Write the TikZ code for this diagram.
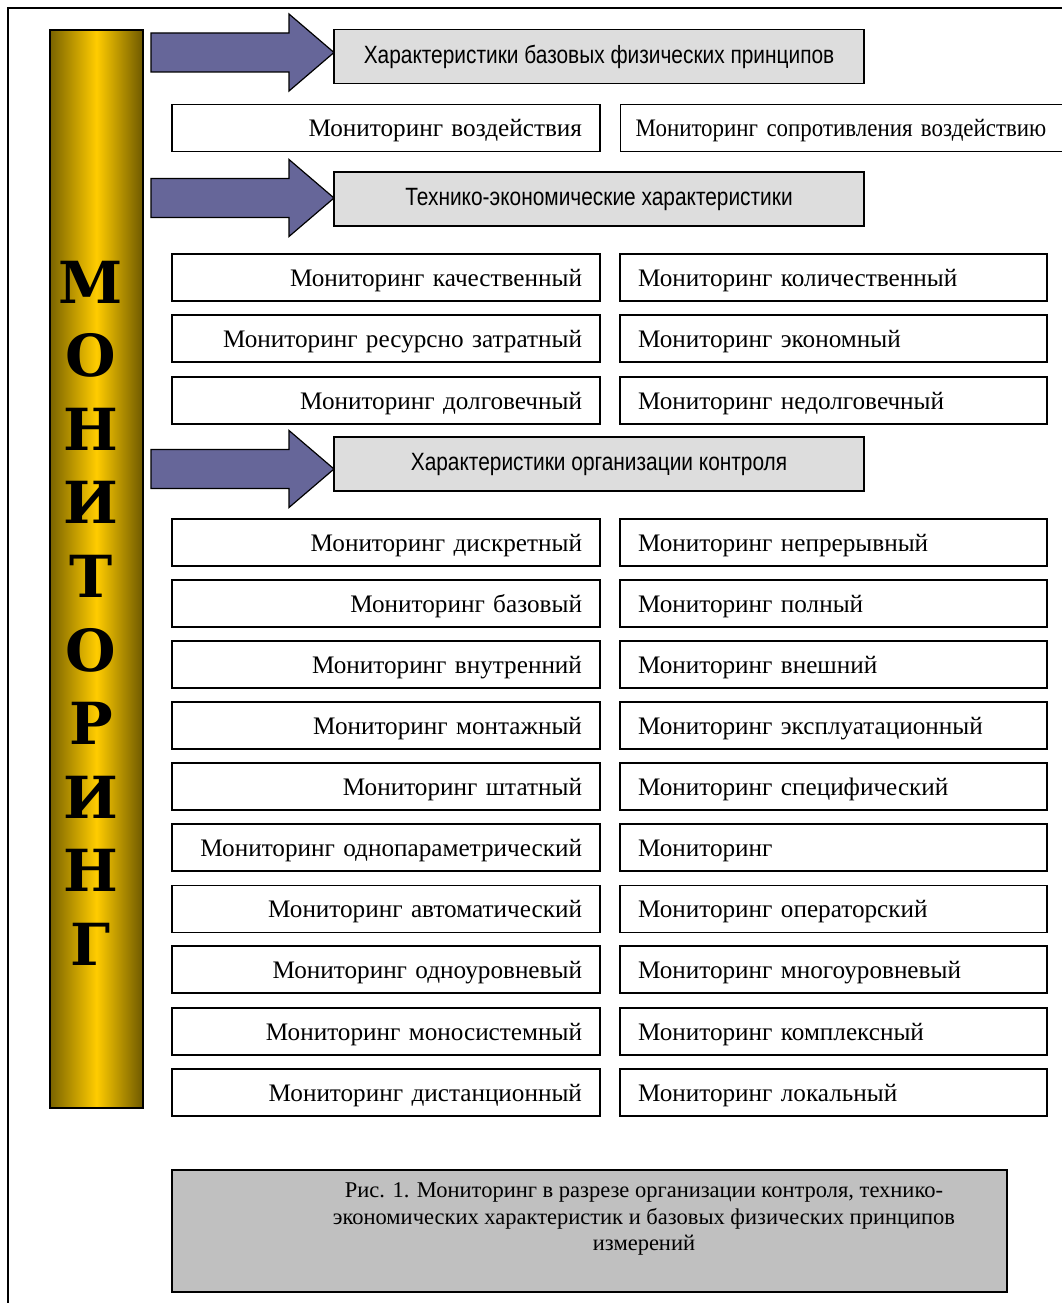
\documentclass[tikz,border=0pt]{standalone}
\usepackage{fontspec}
\setmainfont{Liberation Serif}
\newfontfamily\hdrfont[FakeStretch=0.835]{Liberation Sans}
\newfontfamily\narrowserif[FakeStretch=0.91]{Liberation Serif}
\newfontfamily\barfont{DejaVu Serif}
\definecolor{arrowblue}{HTML}{666699}
\definecolor{hdrgray}{HTML}{DDDDDD}
\definecolor{capgray}{HTML}{C0C0C0}
\definecolor{goldL}{HTML}{7A6300}
\definecolor{goldM}{HTML}{FFCC00}
\definecolor{goldR}{HTML}{6E5900}
\begin{document}
\begin{tikzpicture}[x=1pt,y=-1pt,
  cell/.style={draw=black, line width=1.4pt, fill=white, inner xsep=18pt, inner ysep=0pt,
    minimum height=47pt, text height=19pt, text depth=2pt, font=\fontsize{25.2}{28}\selectfont},
  lcell/.style={cell, text width=392pt, align=right},
  rcell/.style={cell, text width=391pt, align=left},
  header/.style={draw=black, line width=1.3pt, fill=hdrgray, minimum width=530pt, minimum height=54pt,
    inner sep=0pt, font=\hdrfont\fontsize{25}{28}\selectfont},
  bigarrow/.style={draw=black, line width=1.2pt, fill=arrowblue, line join=miter},
  barletter/.style={font=\barfont\bfseries\fontsize{58}{60}\selectfont, inner sep=0pt}
]
\useasboundingbox (0,0) rectangle (1062,1303);
% outer frame (top and left visible)
\draw[line width=1.6pt] (8,1310) -- (8,8) -- (1070,8);
% vertical bar
\node[draw=black, line width=1.6pt, left color=goldL, right color=goldR, middle color=goldM,
  minimum width=93pt, minimum height=1078pt, inner sep=0pt] (bar) at (96.5,569) {};
\foreach \ch [count=\i from 0] in {М,О,Н,И,Т,О,Р,И,Н,Г}
  \node[barletter] (L\i) at (91,{282+73.6*\i}) {\ch};
% arrows
\foreach \yc/\nm in {52.5/a1,198/a2,469/a3}{
  \draw[bigarrow] (151,\yc-19.5) -- (289,\yc-19.5) -- (289,\yc-38.5) -- (334,\yc)
     -- (289,\yc+38.5) -- (289,\yc+19.5) -- (151,\yc+19.5) -- cycle;
  \coordinate (\nm) at (334,\yc);
}
% headers
\node[header] (h1) at (599,56.5) {Характеристики базовых физических принципов};
\node[header] (h2) at (599,199) {Технико-экономические характеристики};
\node[header] (h3) at (599,464) {Характеристики организации контроля};
% first row
\node[lcell] (r1l) at (386,128) {Мониторинг воздействия};
\node[cell, minimum width=460pt, text width=430pt, align=left, anchor=west, font=\narrowserif\fontsize{25.2}{28}\selectfont, inner xsep=12pt] (r1r) at (620,128) {Мониторинг сопротивления воздействию};
% rows
\foreach \yc/\lt/\rt [count=\k] in {
  277.5/{Мониторинг качественный}/{Мониторинг количественный},
  338.5/{Мониторинг ресурсно затратный}/{Мониторинг экономный},
  400.5/{Мониторинг долговечный}/{Мониторинг недолговечный},
  542.5/{Мониторинг дискретный}/{Мониторинг непрерывный},
  603.5/{Мониторинг базовый}/{Мониторинг полный},
  664.5/{Мониторинг внутренний}/{Мониторинг внешний},
  725.5/{Мониторинг монтажный}/{Мониторинг эксплуатационный},
  786.5/{Мониторинг штатный}/{Мониторинг специфический},
  847.5/{Мониторинг однопараметрический}/{Мониторинг},
  909/{Мониторинг автоматический}/{Мониторинг операторский},
  969.5/{Мониторинг одноуровневый}/{Мониторинг многоуровневый},
  1031.5/{Мониторинг моносистемный}/{Мониторинг комплексный},
  1092.5/{Мониторинг дистанционный}/{Мониторинг локальный}}{
  \node[lcell] (l\k) at (386,\yc) {\lt};
  \node[rcell] (r\k) at (833.5,\yc) {\rt};
}
% caption
\node[draw=black, line width=1.6pt, fill=capgray, minimum width=835pt, minimum height=122pt, inner sep=0pt] (cap) at (589.5,1231) {};
\node[align=center, font=\fontsize{22.5}{26.5}\selectfont, inner sep=0pt] (captext) at (644,1219) {Рис. 1. Мониторинг в разрезе организации контроля, технико-\\экономических характеристик и базовых физических принципов\\измерений};
\end{tikzpicture}
\end{document}
